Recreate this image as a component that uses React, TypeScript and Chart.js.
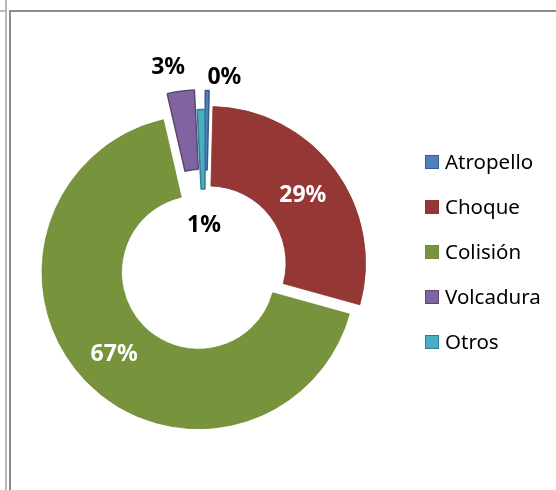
import React, { useEffect, useRef } from "react";
import { Chart, registerables } from "chart.js";

Chart.register(...registerables);

// ---- data ----
const categories = ["Atropello", "Choque", "Colisión", "Volcadura", "Otros"];
const shares = [0.4, 28.9, 67.1, 2.8, 0.8];

// ---- styles ----
const fillColors = ["#4F81BD", "#953735", "#77933C", "#8064A2", "#4BACC6"];
const edgeColors = ["#385D8A", "#8B3331", "#6F8A38", "#5C4776", "#357D92"];
const edgeWidths = [1.5, 0.8, 0.8, 1.5, 1.5];
const explode = [19, 5, 9, 20, 0];
const labelColors = ["#000000", "#FFFFFF", "#FFFFFF", "#000000", "#000000"];
// label placement: null = middle of the ring, number = radial distance from the centre, plus an x nudge
const labelRadius: (number | null)[] = [190, null, null, 202, 42];
const labelNudgeX = [17, 0, 0, -9, 0];

const FONT = '"Noto Sans", "DejaVu Sans", sans-serif';

const framePlugin = {
  id: "frame",
  beforeDraw(chart: any) {
    const ctx = chart.ctx;
    const w = chart.width;
    const h = chart.height;
    ctx.save();
    ctx.fillStyle = "#FFFFFF";
    ctx.fillRect(0, 0, w, h);
    ctx.fillStyle = "#B8B8B8";
    ctx.fillRect(5, 0, 2, h);
    ctx.fillRect(0, 10, 6, 2);
    ctx.fillStyle = "#8C8C8C";
    ctx.fillRect(9, 10, 2, h - 10);
    ctx.fillRect(9, 10, w - 9, 2);
    ctx.restore();
  },
};

const explodePlugin = {
  id: "explode",
  beforeDatasetDraw(chart: any, args: any) {
    const ctx = chart.ctx;
    const meta = args.meta;
    meta.data.forEach((arc: any, i: number) => {
      const d = explode[i] || 0;
      const a = (arc.startAngle + arc.endAngle) / 2;
      ctx.save();
      ctx.translate(Math.cos(a) * d, Math.sin(a) * d);
      arc.draw(ctx);
      ctx.restore();
    });
    return false;
  },
};

const labelPlugin = {
  id: "sliceLabels",
  afterDatasetsDraw(chart: any) {
    const ctx = chart.ctx;
    const meta = chart.getDatasetMeta(0);
    const values = chart.data.datasets[0].data as number[];
    const total = values.reduce((s, v) => s + v, 0);
    ctx.save();
    ctx.font = `bold 23px ${FONT}`;
    ctx.textAlign = "center";
    ctx.textBaseline = "middle";
    meta.data.forEach((arc: any, i: number) => {
      const a = (arc.startAngle + arc.endAngle) / 2;
      const fixed = labelRadius[i];
      const r =
        fixed === null
          ? (arc.innerRadius + arc.outerRadius) / 2 + (explode[i] || 0)
          : fixed;
      const x = arc.x + Math.cos(a) * r + labelNudgeX[i];
      const y = arc.y + Math.sin(a) * r + 1.5;
      ctx.fillStyle = labelColors[i];
      ctx.fillText(`${Math.round((values[i] / total) * 100)}%`, x, y);
    });
    ctx.restore();
  },
};

const legendPlugin = {
  id: "sideLegend",
  afterDraw(chart: any) {
    const ctx = chart.ctx;
    const labels = chart.data.labels as string[];
    ctx.save();
    ctx.font = `20.5px ${FONT}`;
    ctx.textAlign = "left";
    ctx.textBaseline = "middle";
    labels.forEach((lab, i) => {
      const cy = 162 + 45 * i;
      ctx.fillStyle = fillColors[i];
      ctx.fillRect(425.5, cy - 6.5, 13, 13);
      ctx.strokeStyle = edgeColors[i];
      ctx.lineWidth = 1;
      ctx.strokeRect(425.5, cy - 6.5, 13, 13);
      ctx.fillStyle = "#000000";
      ctx.fillText(lab, 445, cy + 1);
    });
    ctx.restore();
  },
};

export default function App() {
  const ref = useRef<HTMLCanvasElement | null>(null);

  useEffect(() => {
    if (!ref.current) return;
    const chart = new Chart(ref.current, {
      type: "doughnut",
      data: {
        labels: categories,
        datasets: [
          {
            data: shares,
            backgroundColor: fillColors,
            borderColor: edgeColors,
            borderWidth: edgeWidths,
            hoverOffset: 0,
          },
        ],
      },
      options: {
        animation: false,
        responsive: false,
        maintainAspectRatio: false,
        radius: 156.5,
        cutout: "49.2%",
        layout: { padding: { left: 10, right: 156, top: 60, bottom: 18 } },
        plugins: {
          legend: { display: false },
          tooltip: { enabled: false },
        },
        events: [],
      },
      plugins: [framePlugin, explodePlugin, labelPlugin, legendPlugin],
    });
    return () => chart.destroy();
  }, []);

  return (
    <div style={{ position: "absolute", left: 0, top: 0, width: 556, height: 490 }}>
      <canvas ref={ref} width={556} height={490} style={{ width: 556, height: 490, display: "block" }} />
    </div>
  );
}
